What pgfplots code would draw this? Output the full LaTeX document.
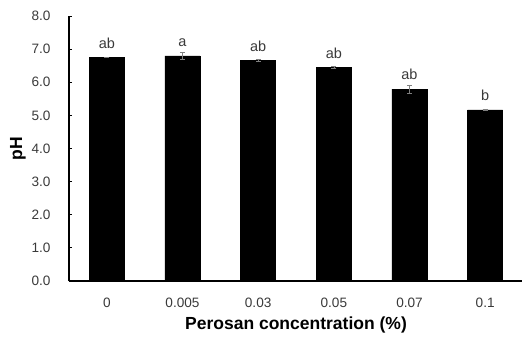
\documentclass[border=0pt]{standalone}
\usepackage{pgfplots}
\pgfplotsset{compat=1.18}
\usepackage{fontspec}
\setmainfont{Liberation Sans}
\definecolor{lblgray}{HTML}{3A3A3A}
\begin{document}
\begin{tikzpicture}[x=1pt,y=1pt]
\path[use as bounding box] (0,0) rectangle (522,338);
\begin{axis}[
  at={(69pt,57pt)}, anchor=south west,
  scale only axis, width=454pt, height=265pt,
  xmin=-0.5, xmax=5.5, ymin=0, ymax=8,
  axis x line*=bottom, axis y line*=left,
  axis line style={black, line width=1.1pt, -},
  xtick=data,
  xticklabels={0,0.005,0.03,0.05,0.07,0.1},
  major x tick style={draw=none},
  ytick={0,1,...,8},
  ytick style={black, line width=0.8pt},
  tick align=inside, major tick length=3pt,
  /pgf/number format/assume math mode=true,
  yticklabel={\pgfmathprintnumber[fixed,fixed zerofill,precision=1]{\tick}},
  tick label style={font=\fontsize{13.6}{15}\selectfont, text=lblgray},
  yticklabel style={xshift=-15pt},
  xticklabel style={yshift=-10pt},
  xlabel={Perosan concentration (\%)},
  ylabel={pH},
  label style={font=\fontsize{17.5}{20}\selectfont\bfseries},
  xlabel style={at={(axis description cs:0.5,0)}, anchor=center, yshift=-44pt},
  ylabel style={at={(axis description cs:0,0.5)}, anchor=center, rotate=0, yshift=51pt},
  ybar, bar width=35pt,
  nodes near coords,
  point meta=explicit symbolic,
  every node near coord/.append style={font=\fontsize{14.5}{16}\selectfont, text=lblgray, anchor=south, inner sep=0pt, yshift=9pt},
  clip=false,
]
\addplot[fill=black, draw=black,
  error bars/.cd, y dir=both, y explicit,
  error bar style={gray, line width=0.6pt}, error mark options={gray, mark size=2.5pt, line width=0.6pt, rotate=90}]
  table[x=x, y=y, y error=e, meta=l] {
x y e l
0 6.75 0.01 ab
1 6.80 0.10 a
2 6.66 0.03 ab
3 6.45 0.03 ab
4 5.79 0.13 ab
5 5.17 0.01 b
};
\end{axis}
\end{tikzpicture}
\end{document}
